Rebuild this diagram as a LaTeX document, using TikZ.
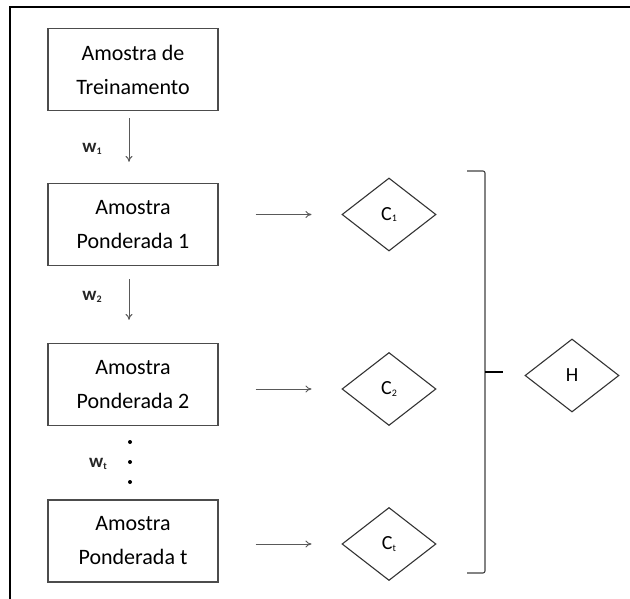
\documentclass[tikz,border=0pt]{standalone}
\usepackage{fontspec}
\setmainfont{Carlito}
\usetikzlibrary{shapes.geometric,arrows.meta}
\newcommand{\smallsub}[1]{\raisebox{-1.5pt}{\fontsize{10}{10}\selectfont #1}}
\begin{document}
\begin{tikzpicture}[x=1pt,y=-1pt,
  sample/.style={draw=black!70,line width=1.2pt,minimum width=170pt,minimum height=82pt,inner sep=0pt,align=center,font=\fontsize{22}{34}\selectfont,text=black},
  clf/.style={diamond,draw=black!80,line width=1.1pt,minimum width=94pt,minimum height=73pt,inner sep=0pt,font=\fontsize{20}{22}\selectfont,text=black},
  wlab/.style={font=\fontsize{19}{22}\selectfont\bfseries,text=black!85,inner sep=0pt},
  arr/.style={draw=black!65,line width=1pt,-{To[length=6pt,width=7pt]}},
  dotm/.style={circle,fill=black,inner sep=0pt,minimum size=4pt}]
\useasboundingbox (0,0) rectangle (630,599);
% frame
\draw[line width=2pt] (630,7) -- (10,7) -- (10,599);
% sample boxes
\node[sample] (b1) at (133,69.5) {Amostra de\\Treinamento};
\node[sample] (b2) at (133,224.5) {Amostra\\Ponderada 1};
\node[sample] (b3) at (133,384.5) {Amostra\\Ponderada 2};
\node[sample] (b4) at (133,541) {Amostra\\Ponderada t};
% classifiers
\node[clf] (c1) at (389,214.5) {C\smallsub{1}};
\node[clf] (c2) at (389,389) {C\smallsub{2}};
\node[clf] (ct) at (389,544) {C\smallsub{t}};
\node[clf] (h) at (572,375.5) {H};
% weights
\node[wlab] (w1) at (92,149) {w\smallsub{1}};
\node[wlab] (w2) at (92,297) {w\smallsub{2}};
\node[wlab] (wt) at (98,464) {w\smallsub{t}};
% vertical arrows
\draw[arr] ([xshift=-4pt,yshift=-7pt]b1.south) -- ([xshift=-4pt,yshift=21pt]b2.north);
\draw[arr] ([xshift=-4pt,yshift=-13pt]b2.south) -- ([xshift=-4pt,yshift=23pt]b3.north);
% dots
\node[dotm] (d1) at (130,442) {};
\node[dotm] (d2) at (130,462) {};
\node[dotm] (d3) at (130,482) {};
% horizontal arrows
\draw[arr] ([xshift=37pt]b2.east |- c1.west) -- ([xshift=-30pt]c1.west);
\draw[arr] ([xshift=37pt]b3.east |- c2.west) -- ([xshift=-30pt]c2.west);
\draw[arr] ([xshift=37pt]b4.east |- ct.west) -- ([xshift=-30pt]ct.west);
% bracket
\coordinate (bt) at (467,171);
\coordinate (bb) at (467,573);
\coordinate (bm) at (485,372);
\coordinate (bk) at (503,372);
\draw[draw=black!75,line width=1.1pt,rounded corners=2pt] (bt) -- (485,171) -- (485,573) -- (bb);
\draw[line width=2.6pt] (bm) -- (bk);
\end{tikzpicture}
\end{document}
